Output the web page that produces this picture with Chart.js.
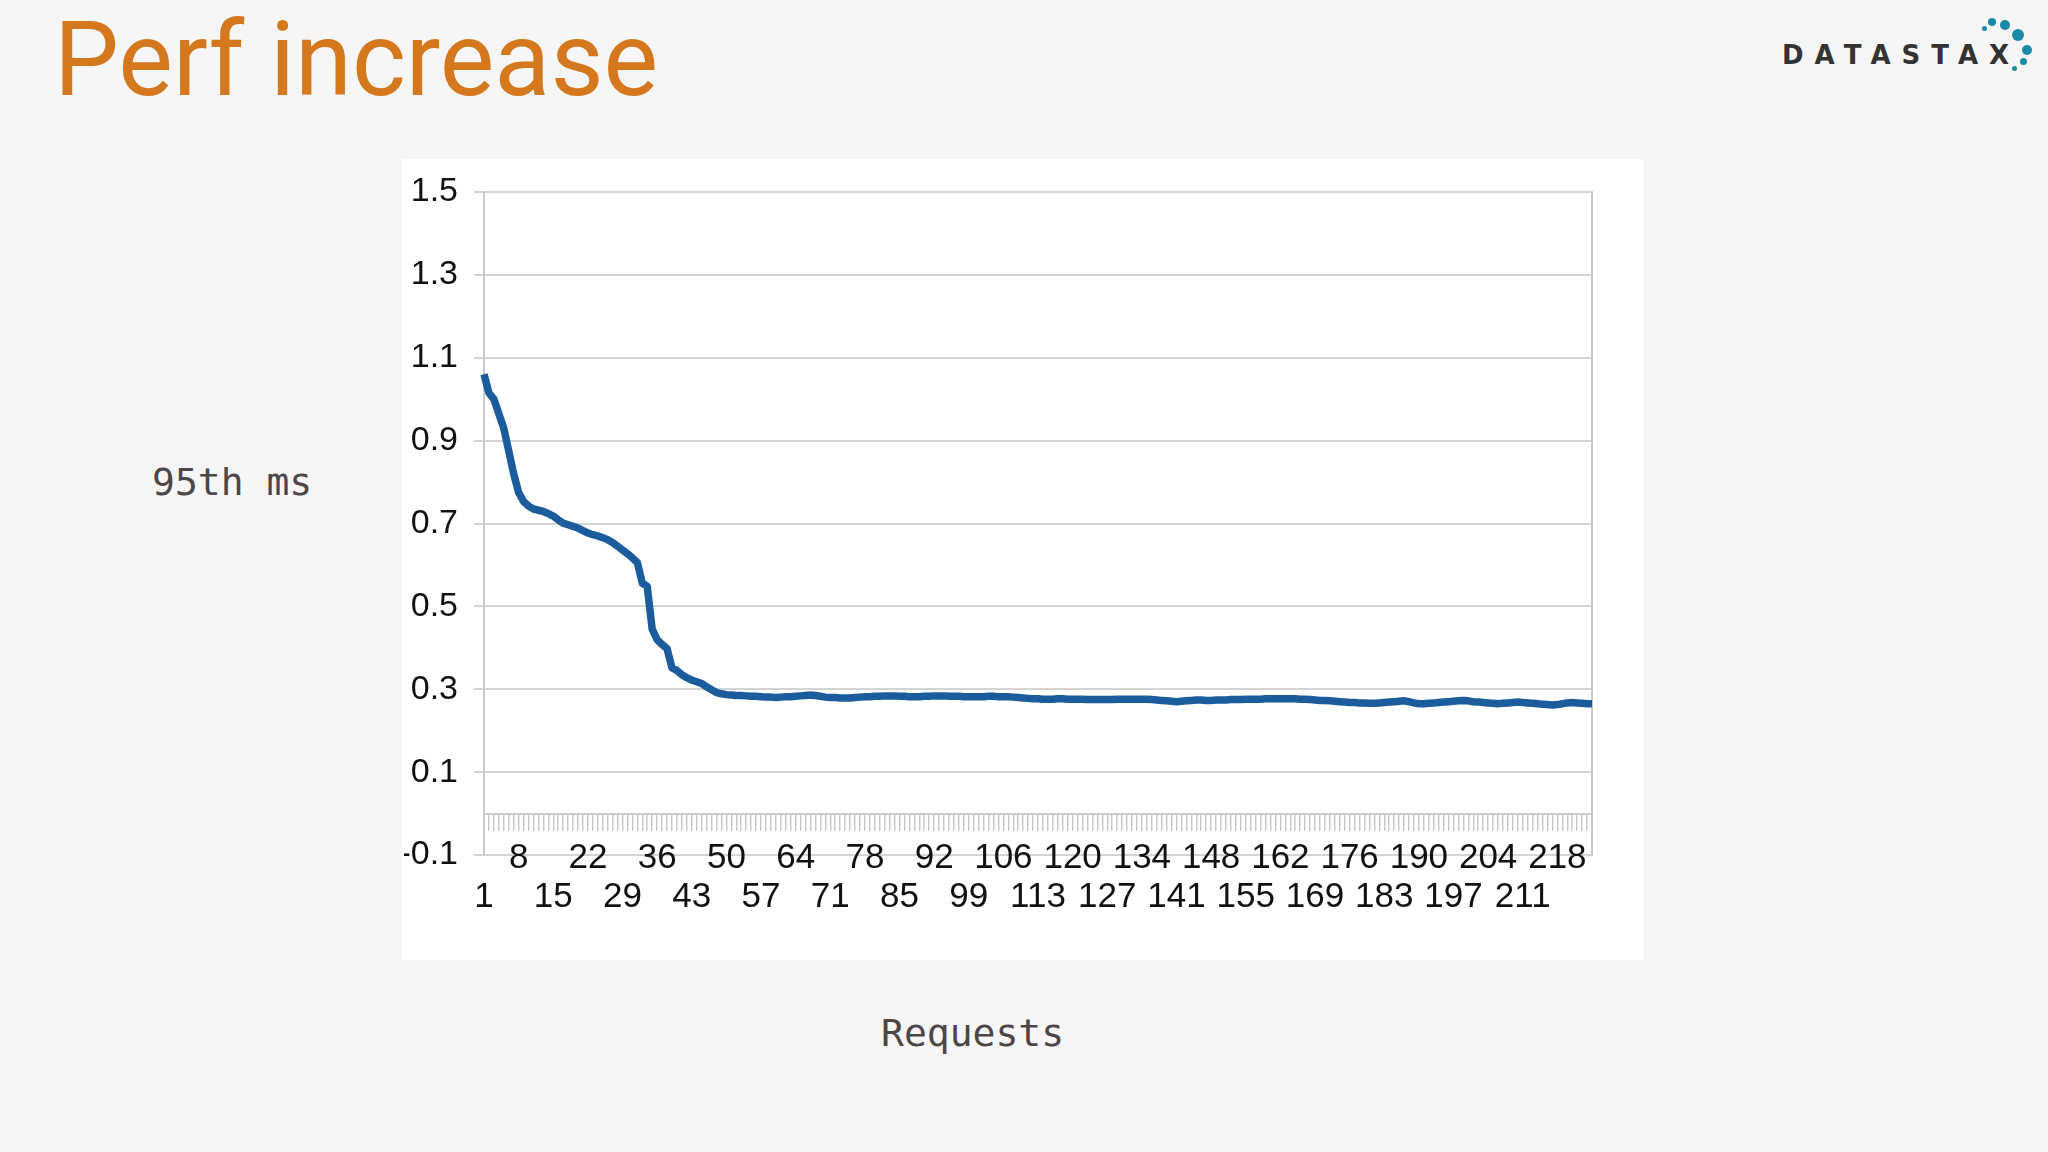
<!DOCTYPE html>
<html>
<head>
<meta charset="utf-8">
<script src="https://cdn.jsdelivr.net/npm/chart.js@4.4.1/dist/chart.umd.min.js"></script>
<style>
  html, body { margin: 0; padding: 0; }
  body { width: 2048px; height: 1152px; background: #f6f6f6; position: relative; overflow: hidden; }
  #title { position: absolute; left: 54px; top: 0px; font-family: Roboto, sans-serif; font-size: 103px; line-height: 120px; color: #d5781d; }
  #panel { position: absolute; left: 402px; top: 159px; width: 1241px; height: 801px; background: #ffffff; }
  #chartWrap { position: absolute; left: 0; top: 0; width: 2048px; height: 1152px; }
  .axisTitle { position: absolute; font-family: "DejaVu Sans Mono", monospace; font-size: 38px; color: #4d4646; white-space: nowrap; }
  #ytitle { left: 152px; top: 460px; }
  #xtitle { left: 881px; top: 1011px; }
  #logo { position: absolute; left: 1782px; top: 40px; font-family: "DejaVu Sans", sans-serif; font-weight: bold; font-size: 26px; letter-spacing: 11px; color: #333333; line-height: 30px; }
  .dot { position: absolute; border-radius: 50%; background: #1b8aa6; }
</style>
</head>
<body>
<div id="title">Perf increase</div>
<div id="logo">DATASTAX</div>
<div class="dot" style="left:1982px;top:26px;width:5px;height:5px;"></div>
<div class="dot" style="left:1988px;top:18px;width:8px;height:8px;"></div>
<div class="dot" style="left:2000px;top:20px;width:10px;height:10px;"></div>
<div class="dot" style="left:2012px;top:29px;width:12px;height:12px;"></div>
<div class="dot" style="left:2022px;top:45px;width:10px;height:10px;"></div>
<div class="dot" style="left:2020px;top:58px;width:7px;height:7px;"></div>
<div class="dot" style="left:2012px;top:66px;width:5px;height:5px;"></div>
<div id="panel"></div>
<div class="axisTitle" id="ytitle">95th ms</div>
<div class="axisTitle" id="xtitle">Requests</div>
<div id="chartWrap"><canvas id="c" width="2048" height="1152"></canvas></div>
<script>
// ---- data ----
const categories = Array.from({length: 225}, (_, i) => i + 1);
const latency95 = [
  1.06, 1.015, 1.0, 0.965, 0.93, 0.875, 0.82, 0.775, 0.753, 0.742,
  0.735, 0.732, 0.729, 0.724, 0.718, 0.709, 0.701, 0.697, 0.693, 0.689,
  0.683, 0.677, 0.673, 0.670, 0.666, 0.661, 0.654, 0.645, 0.636, 0.627,
  0.617, 0.606, 0.556, 0.548, 0.445, 0.420, 0.408, 0.398, 0.352, 0.345,
  0.335, 0.328, 0.322, 0.318, 0.314, 0.306, 0.299, 0.292, 0.289, 0.287,
  0.286, 0.285, 0.285, 0.284, 0.283, 0.283, 0.282, 0.281, 0.281, 0.280,
  0.281, 0.282, 0.282, 0.283, 0.284, 0.285, 0.286, 0.285, 0.283, 0.281,
  0.280, 0.280, 0.279, 0.279, 0.279, 0.280, 0.281, 0.282, 0.282, 0.283,
  0.283, 0.284, 0.284, 0.284, 0.283, 0.283, 0.282, 0.282, 0.282, 0.283,
  0.283, 0.284, 0.284, 0.284, 0.283, 0.283, 0.283, 0.282, 0.282, 0.282,
  0.282, 0.282, 0.283, 0.283, 0.282, 0.282, 0.282, 0.281, 0.280, 0.279,
  0.278, 0.277, 0.277, 0.276, 0.276, 0.276, 0.277, 0.277, 0.276, 0.276,
  0.276, 0.276, 0.275, 0.275, 0.275, 0.275, 0.275, 0.275, 0.276, 0.276,
  0.276, 0.276, 0.276, 0.276, 0.276, 0.275, 0.274, 0.273, 0.272, 0.271,
  0.270, 0.271, 0.272, 0.273, 0.274, 0.274, 0.273, 0.273, 0.274, 0.274,
  0.274, 0.275, 0.275, 0.275, 0.276, 0.276, 0.276, 0.276, 0.277, 0.277,
  0.277, 0.277, 0.277, 0.277, 0.277, 0.276, 0.276, 0.275, 0.274, 0.273,
  0.273, 0.272, 0.271, 0.270, 0.269, 0.268, 0.268, 0.267, 0.267, 0.266,
  0.266, 0.267, 0.268, 0.269, 0.270, 0.271, 0.272, 0.270, 0.267, 0.265,
  0.265, 0.266, 0.267, 0.268, 0.269, 0.270, 0.271, 0.272, 0.273, 0.272,
  0.270, 0.269, 0.268, 0.267, 0.266, 0.265, 0.266, 0.267, 0.268, 0.269,
  0.268, 0.267, 0.266, 0.265, 0.264, 0.263, 0.262, 0.263, 0.265, 0.267,
  0.268, 0.267, 0.266, 0.265, 0.265
];
const upperRowLabels = [8, 22, 36, 50, 64, 78, 92, 106, 120, 134, 148, 162, 176, 190, 204, 218];
const lowerRowLabels = [1, 15, 29, 43, 57, 71, 85, 99, 113, 127, 141, 155, 169, 183, 197, 211];
const yTickValues = [-0.1, 0.1, 0.3, 0.5, 0.7, 0.9, 1.1, 1.3, 1.5];

const gridColor = '#d4d4d4';
const labelFamily = "'Liberation Sans', Arial, sans-serif";

new Chart(document.getElementById('c'), {
  type: 'line',
  data: {
    labels: categories,
    datasets: [{
      data: latency95,
      borderColor: '#1b5c9d',
      borderWidth: 7.5,
      pointRadius: 0,
      tension: 0,
      fill: false,
      borderJoinStyle: 'round'
    }]
  },
  options: {
    responsive: false,
    devicePixelRatio: 1,
    animation: false,
    layout: { padding: { left: 404, right: 456, top: 192, bottom: 297 } },
    plugins: { legend: { display: false }, tooltip: { enabled: false } },
    scales: {
      x: {
        type: 'category',
        axis: 'x',
        position: { y: 0 },
        offset: false,
        grid: { drawOnChartArea: false, drawTicks: true, tickLength: 16, color: '#c9c9c9', lineWidth: 1.5 },
        border: { display: true, color: '#cccccc', width: 2 },
        ticks: {
          autoSkip: false,
          maxRotation: 0,
          minRotation: 0,
          padding: 10,
          color: '#111111',
          font: { family: labelFamily, size: 35, lineHeight: 1.1 },
          callback: function (value, index) {
            const c = categories[index];
            if (upperRowLabels.includes(c)) return String(c);
            if (lowerRowLabels.includes(c)) return ['', String(c)];
            return '';
          }
        }
      },
      y: {
        type: 'linear',
        position: 'left',
        min: -0.1,
        max: 1.5,
        afterBuildTicks: (scale) => { scale.ticks = yTickValues.map(v => ({ value: v })); },
        afterFit: (scale) => { scale.width = 80; },
        grid: { color: gridColor, lineWidth: 2, tickLength: 10, drawTicks: true },
        border: { display: true, color: '#cacaca', width: 2 },
        ticks: {
          padding: 16,
          color: '#111111',
          font: { family: labelFamily, size: 34, lineHeight: 1.2 },
          callback: (v) => Number(v).toFixed(1)
        }
      },
      y2: {
        type: 'linear',
        position: 'right',
        min: -0.1,
        max: 1.5,
        grid: { drawOnChartArea: false, drawTicks: false },
        border: { display: true, color: '#cacaca', width: 2 },
        ticks: { display: false }
      }
    }
  }
});
</script>
</body>
</html>
